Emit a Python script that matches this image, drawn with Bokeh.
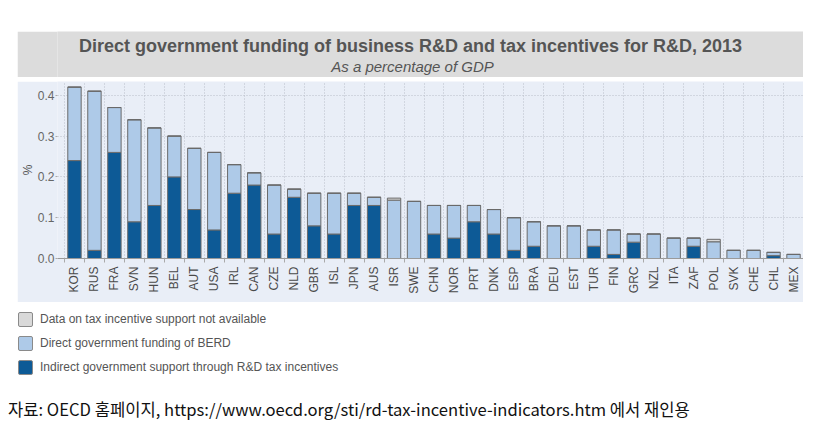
from bokeh.plotting import figure
from bokeh.layouts import column
from bokeh.models import (ColumnDataSource, FixedTicker, Label, Div,
                          Range1d, NumeralTickFormatter)
from bokeh.embed import file_html
from bokeh.resources import INLINE
from math import pi
import html

countries = ["KOR", "RUS", "FRA", "SVN", "HUN", "BEL", "AUT", "USA", "IRL", "CAN",
             "CZE", "NLD", "GBR", "ISL", "JPN", "AUS", "ISR", "SWE", "CHN", "NOR",
             "PRT", "DNK", "ESP", "BRA", "DEU", "EST", "TUR", "FIN", "GRC", "NZL",
             "ITA", "ZAF", "POL", "SVK", "CHE", "CHL", "MEX"]
# Indirect government support through R&D tax incentives (% of GDP)
indirect = [0.24, 0.02, 0.26, 0.09, 0.13, 0.20, 0.12, 0.07, 0.16, 0.18,
            0.06, 0.15, 0.08, 0.06, 0.13, 0.13, 0.0, 0.0, 0.06, 0.05,
            0.09, 0.06, 0.02, 0.03, 0.0, 0.0, 0.03, 0.01, 0.04, 0.0,
            0.0, 0.03, 0.0, 0.0, 0.0, 0.007, 0.0]
# Direct government funding of BERD (% of GDP)
direct = [0.18, 0.39, 0.11, 0.25, 0.19, 0.10, 0.15, 0.19, 0.07, 0.03,
          0.12, 0.02, 0.08, 0.10, 0.03, 0.02, 0.143, 0.14, 0.07, 0.08,
          0.04, 0.06, 0.08, 0.06, 0.08, 0.08, 0.04, 0.06, 0.02, 0.06,
          0.05, 0.02, 0.041, 0.02, 0.02, 0.008, 0.01]
# Data on tax incentive support not available
not_available = [0.0] * 16 + [0.005] + [0.0] * 15 + [0.006] + [0.0] * 4
y_ticks = [0.0, 0.1, 0.2, 0.3, 0.4]
legend_labels = ["Data on tax incentive support not available",
                 "Direct government funding of BERD",
                 "Indirect government support through R&D tax incentives"]

DARK = "#0d5a96"
LIGHT = "#aecae8"
GREY = "#d9d9d9"
EDGE = "#6a6a6a"
BG = "#e9eef7"
TXT = "#555555"
FONT = "Liberation Sans"

n = len(countries)
LB = 40  # left border shared by both figures (their frames get aligned)

# ---- title band ----
tf = figure(width=786, height=46, output_backend="svg", toolbar_location=None,
            x_range=Range1d(0, 1), y_range=Range1d(0, 1),
            min_border_left=LB, min_border_right=0, min_border_top=0, min_border_bottom=0,
            x_axis_location=None, y_axis_location=None,
            background_fill_color="#dcdcdc", border_fill_color="#dcdcdc",
            outline_line_color=None, title=None, margin=(31, 0, 4, 17))
tf.grid.visible = False
tf.add_layout(Label(x=353, y=32, x_units="screen", y_units="screen",
                    text="Direct government funding of business R&D and tax incentives for R&D, 2013",
                    text_align="center", text_baseline="middle", text_font=FONT,
                    text_font_style="bold", text_font_size="18px", text_color=TXT))
tf.add_layout(Label(x=355, y=11, x_units="screen", y_units="screen",
                    text="As a percentage of GDP", text_align="center",
                    text_baseline="middle", text_font=FONT, text_font_style="italic",
                    text_font_size="15px", text_color=TXT))

# ---- chart ----
src = ColumnDataSource(dict(x=list(range(n)), indirect=indirect, direct=direct,
                            na=not_available))
p = figure(width=786, height=221, output_backend="svg", toolbar_location=None,
           x_range=Range1d(-0.85, n - 1 + 0.5), y_range=Range1d(0, 0.4338),
           min_border_left=LB, min_border_right=0, min_border_top=0,
           min_border_bottom=44, background_fill_color=BG, border_fill_color=BG,
           outline_line_color=None, title=None, margin=(0, 0, 0, 17))
p.vbar_stack(["indirect", "direct", "na"], x="x", width=0.67, source=src,
             fill_color=[DARK, LIGHT, GREY], line_color=EDGE, line_width=1)

xa = p.xaxis[0]
xa.ticker = FixedTicker(ticks=list(range(n)),
                        minor_ticks=[i - 0.5 for i in range(n + 1)])
xa.major_label_overrides = {i: c for i, c in enumerate(countries)}
xa.major_label_orientation = pi / 2
xa.major_tick_out = 0
xa.major_tick_in = 0
xa.minor_tick_out = 4
xa.minor_tick_in = 0
xa.minor_tick_line_color = "#aaaaaa"
xa.axis_line_color = "#9a9a9a"
xa.major_label_text_font = FONT
xa.major_label_text_font_size = "12px"
xa.major_label_text_color = "#4a4a4a"
xa.major_label_standoff = 4

ya = p.yaxis[0]
ya.ticker = FixedTicker(ticks=y_ticks)
ya.formatter = NumeralTickFormatter(format="0.0")
ya.axis_line_color = None
ya.major_tick_out = 2
ya.major_tick_in = 0
ya.minor_tick_out = 0
ya.minor_tick_in = 0
ya.major_tick_line_color = "#aaaaaa"
ya.major_label_text_font = FONT
ya.major_label_text_font_size = "12px"
ya.major_label_text_color = "#666666"
ya.major_label_standoff = 1
ya.axis_label = "%"
ya.axis_label_text_font = FONT
ya.axis_label_text_font_size = "12px"
ya.axis_label_text_font_style = "normal"
ya.axis_label_text_color = TXT
ya.axis_label_standoff = 0

p.xgrid.ticker = FixedTicker(ticks=[i - 0.5 for i in range(n + 1)])
for g in (p.xgrid[0], p.ygrid[0]):
    g.grid_line_color = "#b9bec9"
    g.grid_line_dash = "1 2"
    g.grid_line_width = 1

# ---- legend + source (HTML) ----
swatches = [GREY, LIGHT, DARK]
rows = ""
for col, lab in zip(swatches, legend_labels):
    rows += (
        '<div style="display:flex;align-items:center;height:15px;margin-bottom:9px;">'
        f'<span style="display:inline-block;box-sizing:border-box;width:15px;height:15px;'
        f'background:{col};border:1px solid #8a8a8a;border-radius:2px;margin-right:7px;"></span>'
        f'<span>{html.escape(lab)}</span></div>'
    )
source_text = "자료: OECD 홈페이지, https://www.oecd.org/sti/rd-tax-incentive-indicators.htm 에서 재인용"
legend_html = (
    f'<div style="font-family:\'{FONT}\';font-size:12px;color:{TXT};'
    f'padding:10px 0 0 10px;line-height:15px;">{rows}</div>'
    f'<div style="font-family:\'Noto Sans CJK KR\';font-size:16.6px;color:#111111;'
    f'line-height:20px;margin-top:24px;white-space:nowrap;">{html.escape(source_text)}</div>'
)
lg = Div(text=legend_html, width=810, height=140, margin=(0, 0, 0, 8))

layout = column(tf, p, lg, spacing=0)
open("out.html", "w").write(file_html(layout, INLINE))
